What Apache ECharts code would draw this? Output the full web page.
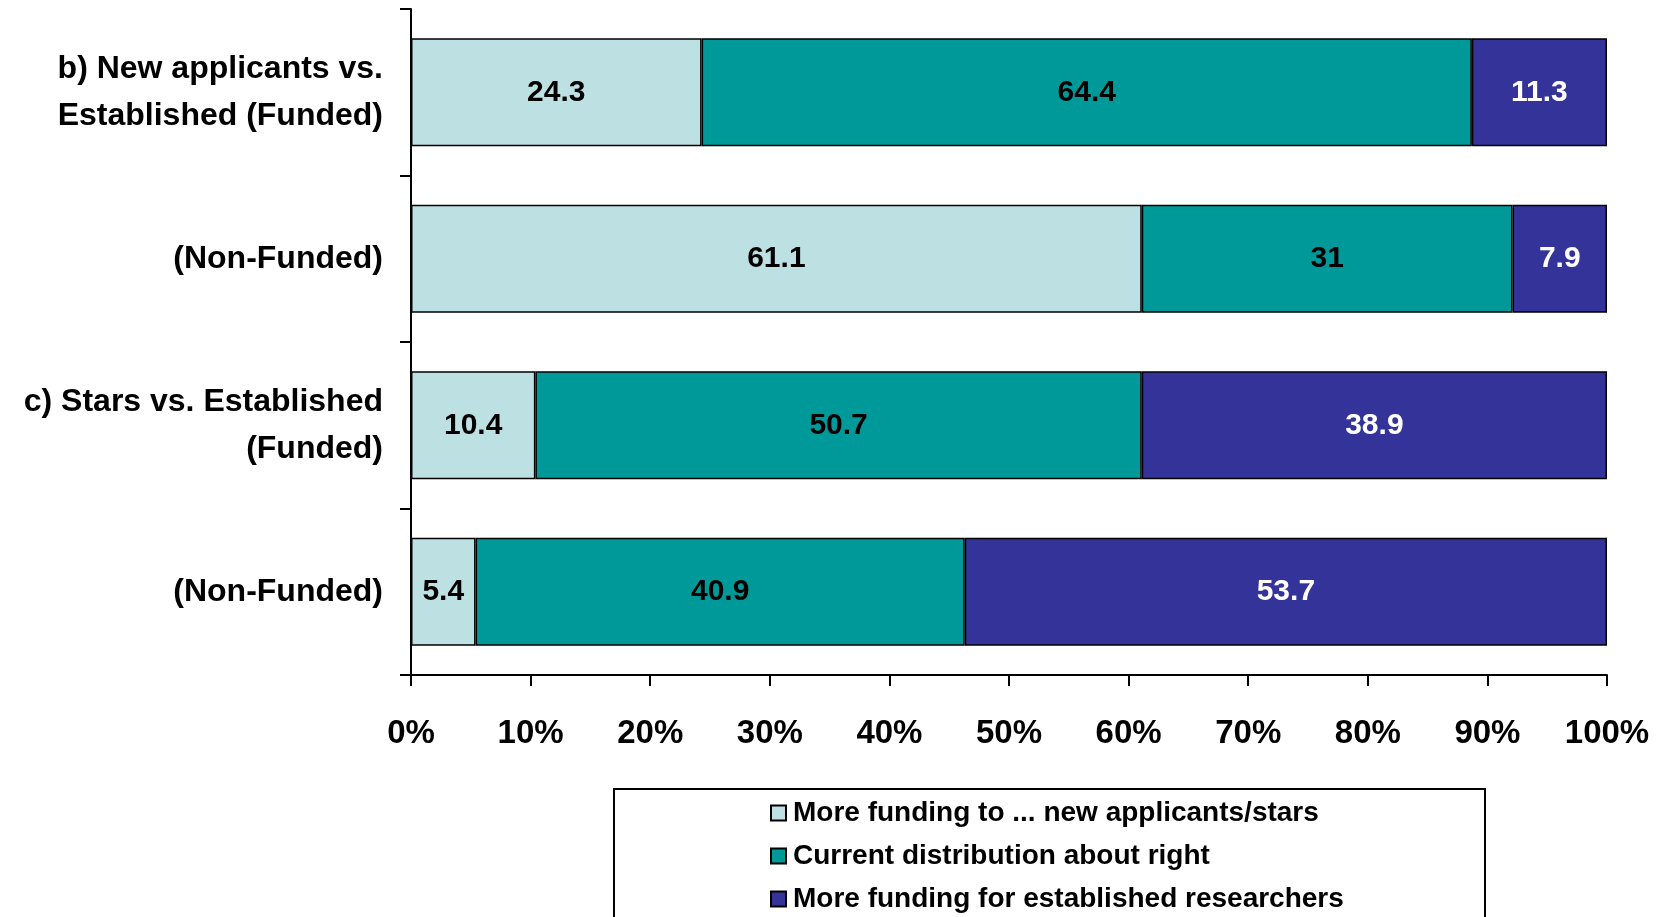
<!DOCTYPE html>
<html>
<head>
<meta charset="utf-8">
<script src="https://cdn.jsdelivr.net/npm/echarts@6/dist/echarts.min.js"></script>
<style>
  html, body { margin: 0; padding: 0; background: #fff; }
  #chart { width: 1661px; height: 917px; }
</style>
</head>
<body>
<div id="chart"></div>
<script>
// categories top to bottom
var categories = [
    'b) New applicants vs.\nEstablished (Funded)',
    '(Non-Funded)',
    'c) Stars vs. Established\n(Funded)',
    '(Non-Funded)'
];
var seriesNames = [
    'More funding to ... new applicants/stars',
    'Current distribution about right',
    'More funding for established researchers'
];
var newApplicants = [24.3, 61.1, 10.4, 5.4];
var currentRight = [64.4, 31, 50.7, 40.9];
var established = [11.3, 7.9, 38.9, 53.7];
var xTicks = [0, 10, 20, 30, 40, 50, 60, 70, 80, 90, 100];

var font = '"Liberation Sans Narrow", "Liberation Sans", Arial, sans-serif';
var colors = ['#bde1e3', '#009999', '#333399'];
var labelColors = ['#000', '#000', '#fff'];
var values = [newApplicants, currentRight, established];

var chart = echarts.init(document.getElementById('chart'));

var series = seriesNames.map(function (name, i) {
    return {
        name: name,
        type: 'bar',
        stack: 'total',
        barCategoryGap: '35%',
        data: values[i],
        itemStyle: { color: colors[i], borderColor: '#000', borderWidth: 1.5 },
        label: {
            show: true,
            position: 'inside',
            color: labelColors[i],
            fontFamily: font,
            fontWeight: 'bold',
            fontSize: 30
        },
        emphasis: { disabled: true }
    };
});

chart.setOption({
    animation: false,
    grid: { left: 411, right: 54, top: 9, bottom: 242 },
    xAxis: {
        type: 'value',
        min: 0,
        max: 100,
        interval: 10,
        splitLine: { show: false },
        axisLine: { show: true, lineStyle: { color: '#000', width: 2 } },
        axisTick: { show: true, length: 11, lineStyle: { color: '#000', width: 2 } },
        axisLabel: {
            margin: 42,
            formatter: function (v) { return xTicks.indexOf(v) >= 0 ? v + '%' : ''; },
            color: '#000',
            fontFamily: font,
            fontWeight: 'bold',
            fontSize: 33
        }
    },
    yAxis: {
        type: 'category',
        inverse: true,
        data: categories,
        axisLine: { show: true, lineStyle: { color: '#000', width: 2 } },
        axisTick: { show: true, length: 11, lineStyle: { color: '#000', width: 2 } },
        axisLabel: {
            margin: 28,
            color: '#000',
            fontFamily: font,
            fontWeight: 'bold',
            fontSize: 32,
            lineHeight: 47,
            align: 'right'
        }
    },
    legend: {
        orient: 'vertical',
        left: 770,
        top: 799,
        height: 160,
        padding: 0,
        icon: 'rect',
        itemWidth: 15,
        itemHeight: 15,
        itemGap: 15,
        data: seriesNames,
        textStyle: { color: '#000', fontFamily: font, fontWeight: 'bold', fontSize: 28, padding: [0, 0, 0, 2] },
        selectedMode: false
    },
    graphic: [{
        type: 'rect',
        shape: { x: 614, y: 789, width: 871, height: 160 },
        style: { fill: 'none', stroke: '#000', lineWidth: 2 },
        z: -1
    }],
    series: series
});
</script>
</body>
</html>
